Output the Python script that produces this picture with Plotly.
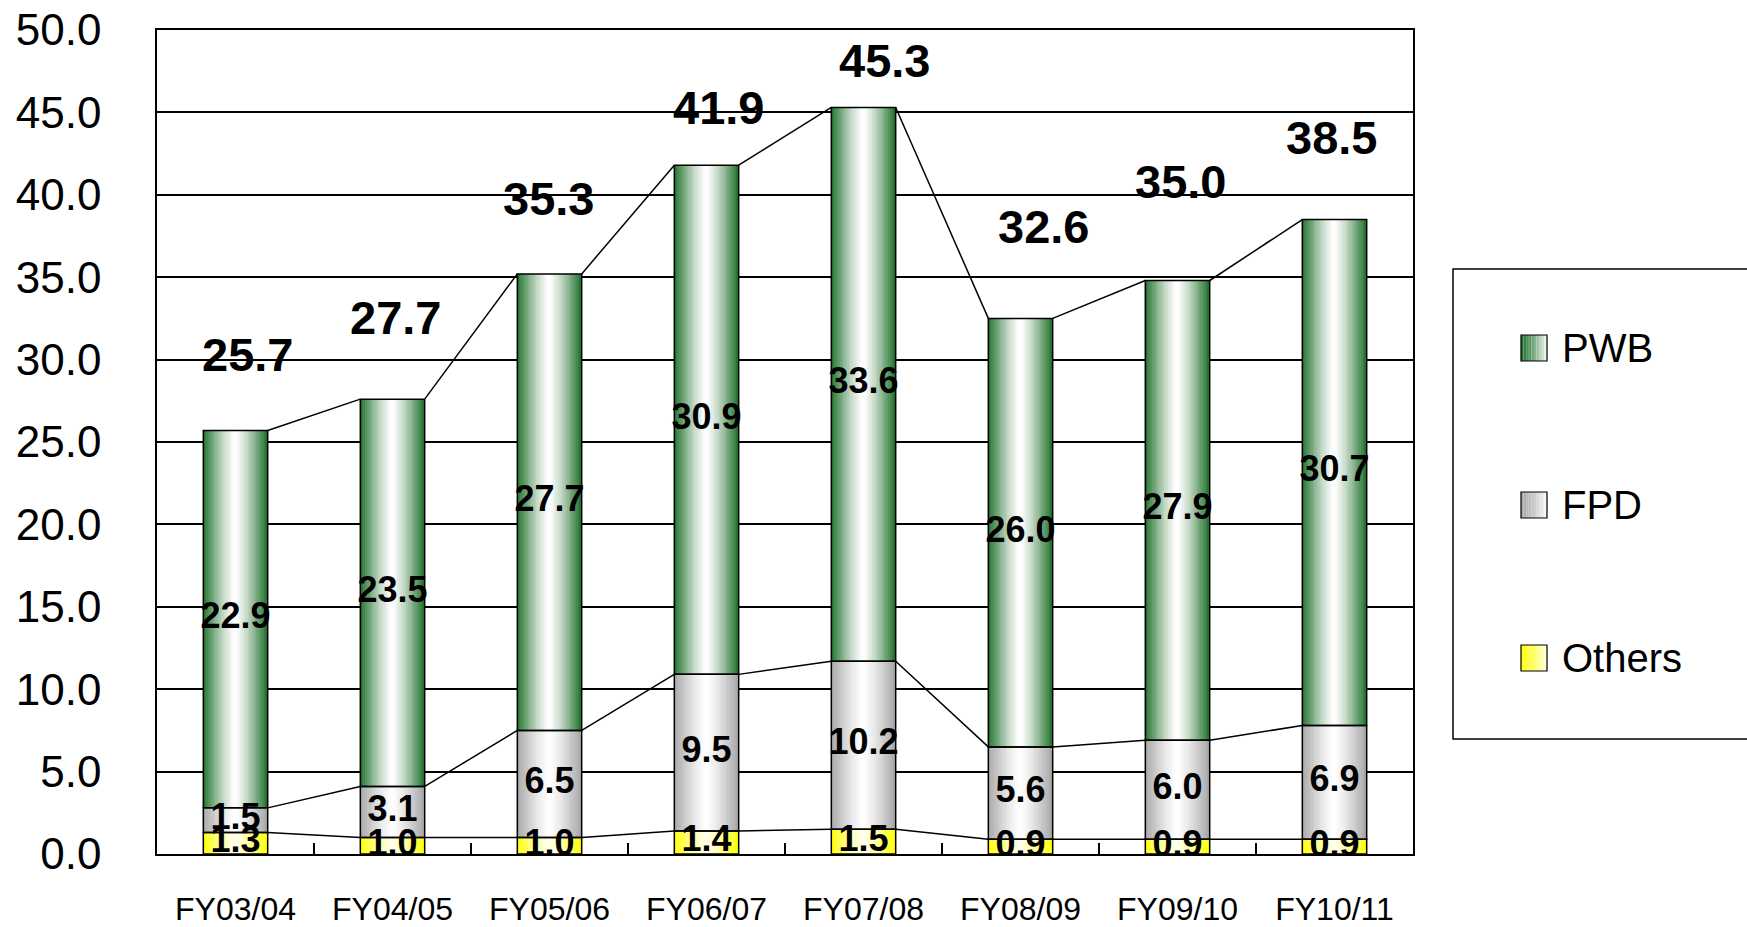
import plotly.graph_objects as go

# ---- data -------------------------------------------------------------
categories = ["FY03/04", "FY04/05", "FY05/06", "FY06/07",
              "FY07/08", "FY08/09", "FY09/10", "FY10/11"]
others = [1.3, 1.0, 1.0, 1.4, 1.5, 0.9, 0.9, 0.9]
fpd = [1.5, 3.1, 6.5, 9.5, 10.2, 5.6, 6.0, 6.9]
pwb = [22.9, 23.5, 27.7, 30.9, 33.6, 26.0, 27.9, 30.7]
totals = [25.7, 27.7, 35.3, 41.9, 45.3, 32.6, 35.0, 38.5]
y_ticks = [0, 5, 10, 15, 20, 25, 30, 35, 40, 45, 50]

# ---- label placement for the totals (pixels relative to bar top) ------
total_label_lift_px = [76, 80, 74, 56, 47, 90, 96, 82]
total_label_shift_px = [12, 3, -1, 12, 21, 23, 3, -3]

# ---- styling ----------------------------------------------------------
W, H = 1747, 927
L, R, T, B = 157, 1413, 30, 854           # plot area in pixels
BAR_W = 0.41                               # bar width in category units
N_STRIPS = 36                              # strips used to shade each bar
FONT = "Liberation Sans, Arial, sans-serif"

series = [
    ("Others", others, (255, 255, 0), (255, 255, 235)),
    ("FPD", fpd, (165, 165, 165), (255, 255, 255)),
    ("PWB", pwb, (30, 112, 42), (255, 255, 255)),
]

xpos = list(range(len(categories)))


def mix(c_edge, c_mid, f):
    return "rgb({},{},{})".format(*[round(m + (e - m) * f) for e, m in zip(c_edge, c_mid)])


def shade(k, n, c_edge, c_mid):
    t = abs(((k + 0.5) / n) - 0.5) * 2.0
    return mix(c_edge, c_mid, t ** 1.3)


fig = go.Figure()

# stacked bars, shaded from the edges to a light centre
base = [0.0] * len(categories)
bases = {}
for name, vals, c_edge, c_mid in series:
    bases[name] = list(base)
    for k in range(N_STRIPS):
        fig.add_trace(go.Bar(
            x=xpos, y=vals, base=bases[name],
            width=BAR_W / N_STRIPS,
            offset=-BAR_W / 2 + k * BAR_W / N_STRIPS,
            marker=dict(color=shade(k, N_STRIPS, c_edge, c_mid), line=dict(width=0)),
            showlegend=False, hoverinfo="skip",
        ))
    base = [b + v for b, v in zip(base, vals)]

# outlines of each segment
for name, vals, c_edge, c_mid in series:
    fig.add_trace(go.Bar(
        x=xpos, y=vals, base=bases[name], width=BAR_W, offset=-BAR_W / 2,
        marker=dict(color="rgba(0,0,0,0)", line=dict(color="black", width=1.5)),
        showlegend=False, hovertemplate=name + ": %{y}<extra></extra>",
    ))

# series lines joining the segment tops of neighbouring bars
for name, vals, c_edge, c_mid in series:
    tops = [b + v for b, v in zip(bases[name], vals)]
    lx, ly = [], []
    for i in range(len(categories) - 1):
        lx += [xpos[i] + BAR_W / 2, xpos[i + 1] - BAR_W / 2, None]
        ly += [tops[i], tops[i + 1], None]
    fig.add_trace(go.Scatter(
        x=lx, y=ly, mode="lines", line=dict(color="black", width=1.5),
        showlegend=False, hoverinfo="skip",
    ))

# segment value labels
for name, vals, c_edge, c_mid in series:
    mids = [b + v / 2 for b, v in zip(bases[name], vals)]
    fig.add_trace(go.Scatter(
        x=xpos, y=mids, mode="text", text=[f"<b>{v:.1f}</b>" for v in vals],
        textfont=dict(family=FONT, size=36, color="black"),
        cliponaxis=False, showlegend=False, hoverinfo="skip",
    ))

# totals above the bars
for i, tot in enumerate(totals):
    fig.add_annotation(
        x=xpos[i], y=tot, text=f"<b>{tot:.1f}</b>", showarrow=False,
        xshift=total_label_shift_px[i], yshift=total_label_lift_px[i],
        font=dict(family=FONT, size=47, color="black"),
        xanchor="center", yanchor="middle",
    )


# ---- legend (drawn by hand so the swatches can be shaded) ------------
def px_x(p):
    return (p - L) / (R - L)


def px_y(p):
    return (B - p) / (B - T)


shapes = []
shapes.append(dict(type="rect", xref="paper", yref="paper",
                   x0=px_x(1453), x1=px_x(1770), y0=px_y(739), y1=px_y(269),
                   line=dict(color="black", width=1.5), fillcolor="white"))

legend_rows = [("PWB", 348), ("FPD", 505), ("Others", 658)]
colors_by_name = {name: (c_edge, c_mid) for name, vals, c_edge, c_mid in series}
sw_x0, sw_size, sw_n = 1521, 26, 10
for name, cy in legend_rows:
    c_edge, c_mid = colors_by_name[name]
    for k in range(sw_n):
        f = 1.0 - (k + 0.5) / sw_n
        shapes.append(dict(
            type="rect", xref="paper", yref="paper",
            x0=px_x(sw_x0 + k * sw_size / sw_n), x1=px_x(sw_x0 + (k + 1) * sw_size / sw_n),
            y0=px_y(cy + sw_size / 2), y1=px_y(cy - sw_size / 2),
            line=dict(width=0), fillcolor=mix(c_edge, c_mid, f ** 0.8),
        ))
    shapes.append(dict(type="rect", xref="paper", yref="paper",
                       x0=px_x(sw_x0), x1=px_x(sw_x0 + sw_size),
                       y0=px_y(cy + sw_size / 2), y1=px_y(cy - sw_size / 2),
                       line=dict(color="black", width=1.2)))
    fig.add_annotation(
        xref="paper", yref="paper", x=px_x(1560), y=px_y(cy),
        text=name, showarrow=False, xanchor="left", yanchor="middle",
        font=dict(family=FONT, size=40, color="black"),
    )

fig.update_layout(
    width=W, height=H,
    margin=dict(l=L, r=W - R, t=T, b=H - B, pad=0, autoexpand=False),
    paper_bgcolor="white", plot_bgcolor="white",
    barmode="overlay", showlegend=False,
    shapes=shapes,
    xaxis=dict(
        automargin=False,
        range=[-0.5, len(categories) - 0.5],
        tickmode="array", tickvals=xpos, ticktext=categories,
        ticks="", showgrid=False, zeroline=False,
        showline=True, linecolor="black", linewidth=1.5, mirror=True,
        tickfont=dict(family=FONT, size=32, color="black"),
        ticklabelstandoff=26,
        minor=dict(tickmode="array",
                   tickvals=[x + 0.5 for x in xpos[:-1]],
                   ticks="inside", ticklen=11, tickwidth=1.5, tickcolor="black",
                   showgrid=False),
    ),
    yaxis=dict(
        automargin=False,
        range=[0, 50], tickmode="array", tickvals=y_ticks,
        tickformat=".1f", ticks="",
        showgrid=True, gridcolor="black", gridwidth=1.5,
        zeroline=False,
        showline=True, linecolor="black", linewidth=1.5, mirror=True,
        tickfont=dict(family=FONT, size=44, color="black"),
        ticklabelstandoff=45,
    ),
)

fig.write_html("out.html")
